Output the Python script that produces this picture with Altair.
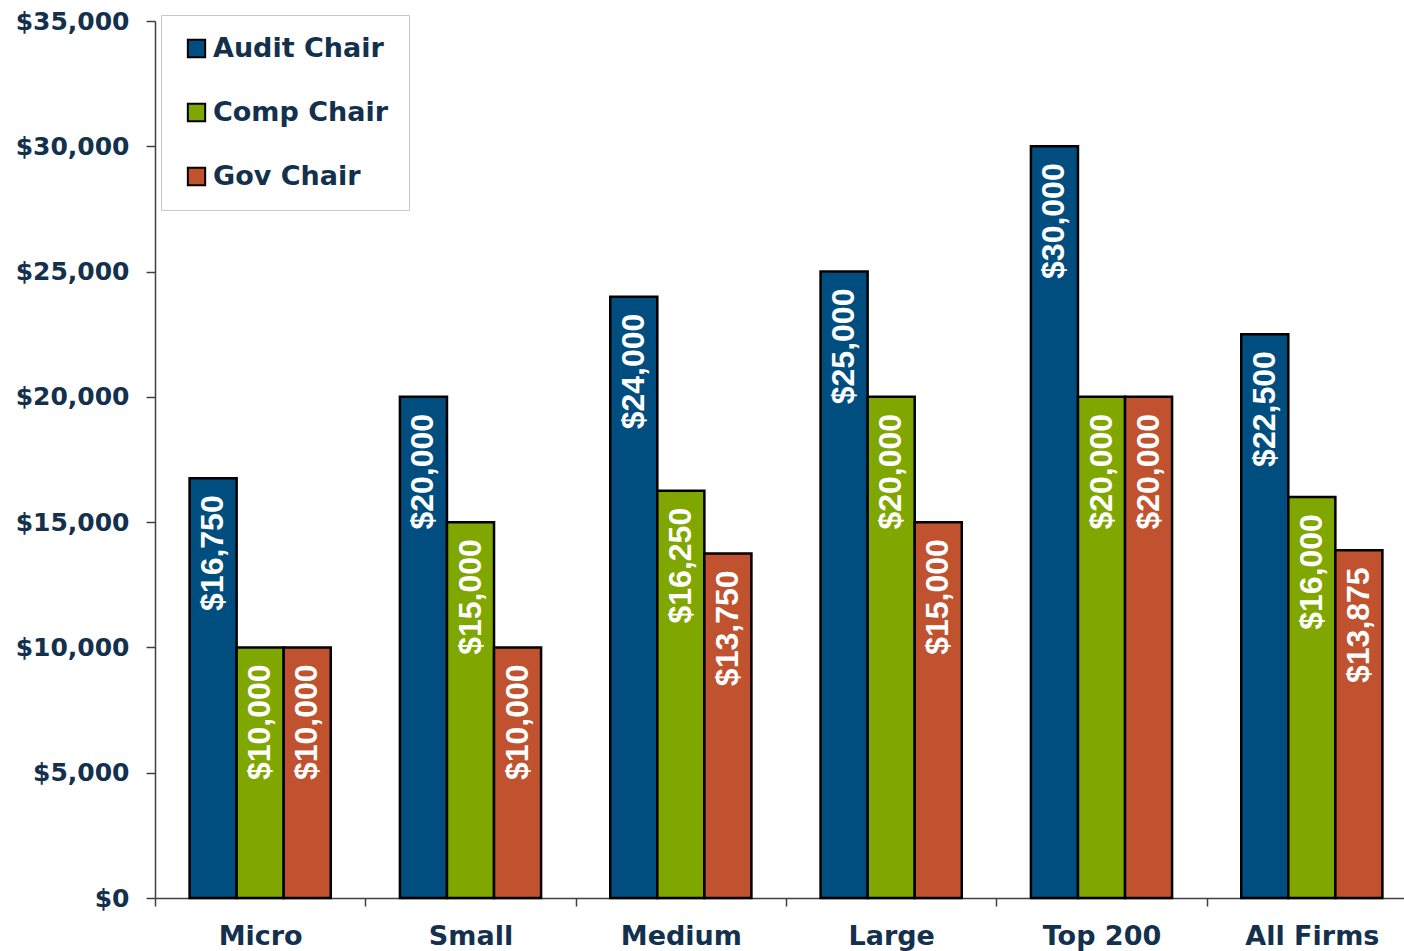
import altair as alt
import pandas as pd

categories = ["Micro", "Small", "Medium", "Large", "Top 200", "All Firms"]
series = ["Audit Chair", "Comp Chair", "Gov Chair"]
audit = [16750, 20000, 24000, 25000, 30000, 22500]
comp = [10000, 15000, 16250, 20000, 20000, 16000]
gov = [10000, 10000, 13750, 15000, 20000, 13875]
colors = ["#004E80", "#80A600", "#C0522F"]

rows = []
for s, vals in zip(series, [audit, comp, gov]):
    for c, v in zip(categories, vals):
        rows.append({"category": c, "series": s, "value": v})
df = pd.DataFrame(rows)

FONT = "DejaVu Sans"
TXT = "#13304D"
AX = "#404040"

x = alt.X(
    "category:N", sort=categories, title=None,
    scale=alt.Scale(range=[0, 1262], paddingInner=0, paddingOuter=0),
    axis=alt.Axis(labelAngle=0, tickBand="extent", tickSize=8, labelPadding=17,
                  labelFont=FONT, labelFontSize=27, labelFontWeight="bold",
                  labelColor=TXT, domainColor=AX, tickColor=AX,
                  domainWidth=1.5, tickWidth=1.5),
)
xoff = alt.XOffset("series:N", sort=series,
                   scale=alt.Scale(paddingInner=0, paddingOuter=0.735))
y = alt.Y(
    "value:Q", title=None,
    scale=alt.Scale(domain=[0, 35000], nice=False),
    axis=alt.Axis(values=list(range(0, 35001, 5000)), format="$,.0f", grid=False,
                  tickSize=9, labelPadding=17, labelFont=FONT, labelFontSize=25,
                  labelFontWeight="bold", labelColor=TXT, domainColor=AX,
                  tickColor=AX, domainWidth=1.5, tickWidth=1.5),
)

base = alt.Chart(df).encode(x=x, xOffset=xoff, y=y)

bars = base.mark_bar(stroke="black", strokeWidth=2.5).encode(
    color=alt.Color(
        "series:N", sort=series,
        scale=alt.Scale(domain=series, range=colors),
        legend=alt.Legend(
            title=None, orient="none", legendX=6, legendY=-6,
            fillColor="white", strokeColor="#C8C8C8", padding=20,
            symbolType="square", symbolSize=300, symbolStrokeColor="black",
            symbolStrokeWidth=2, symbolOffset=2, labelFont=FONT, labelFontSize=27,
            labelFontWeight="bold", labelColor=TXT, rowPadding=36, labelOffset=3,
            labelLimit=0,
        ),
    )
)

labels = base.mark_text(
    angle=270, align="right", baseline="middle", dx=-17,
    font="Liberation Sans", fontSize=32, fontWeight="bold", color="white",
).encode(text=alt.Text("value:Q", format="$,.0f"))

chart = (
    alt.layer(bars, labels)
    .properties(
        width=1249, height=877,
        autosize=alt.AutoSizeParams(type="none"),
        padding={"left": 155, "top": 21, "right": 0, "bottom": 53},
    )
    .configure_view(stroke=None)
)

chart.save("out.html", embed_options={"renderer": "svg", "actions": False})
